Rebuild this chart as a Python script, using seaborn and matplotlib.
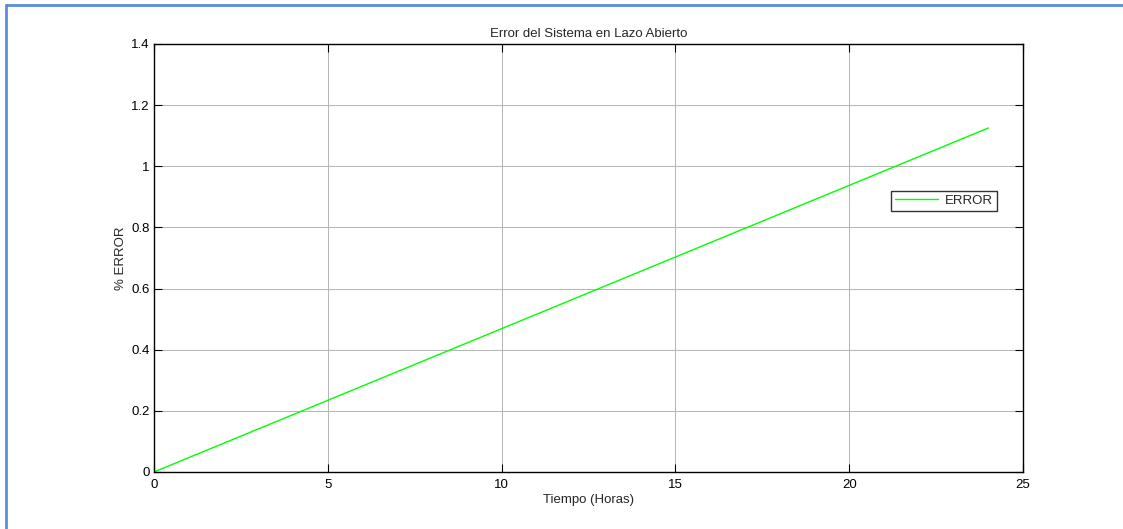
import matplotlib
matplotlib.use("Agg")
import matplotlib.pyplot as plt
import matplotlib.ticker as mticker
from matplotlib.lines import Line2D
import seaborn as sns
import pandas as pd

# data
tiempo = [0, 24]
error_pct = [0, 1.125]
x_ticks = [0, 5, 10, 15, 20, 25]
y_ticks = [0, 0.2, 0.4, 0.6, 0.8, 1.0, 1.2, 1.4]

sns.set_theme(style="white")
plt.rcParams['font.family'] = ['Liberation Sans', 'DejaVu Sans']
plt.rcParams['font.size'] = 9.5

df = pd.DataFrame({'Tiempo': tiempo, 'Error': error_pct})

fig = plt.figure(figsize=(11.23, 5.29), dpi=100)
ax = fig.add_axes([0.1371, 0.1078, 0.7739, 0.8091])

sns.lineplot(data=df, x='Tiempo', y='Error', ax=ax, color='#00ff00',
             linewidth=1.0, label='ERROR')

ax.set_xlim(0, 25)
ax.set_ylim(0, 1.4)
ax.set_xticks(x_ticks)
ax.set_yticks(y_ticks)
ax.yaxis.set_major_formatter(mticker.FormatStrFormatter('%g'))
ax.grid(True, color='#b4b4b4', linewidth=0.7, linestyle='-')
ax.tick_params(direction='in', length=6, width=0.8, colors='black',
               labelsize=9.5, top=True, right=True, bottom=True, left=True, pad=3)
ax.tick_params(axis='x', pad=5)
for s in ax.spines.values():
    s.set_color('black')
    s.set_linewidth(1.0)

ax.set_title("Error del Sistema en Lazo Abierto", fontsize=9.5, pad=5)
ax.set_xlabel("Tiempo (Horas)", fontsize=9.5, labelpad=2)
ax.set_ylabel("% ERROR", fontsize=9.5, labelpad=3)

leg = ax.legend(loc='center', bbox_to_anchor=(0.909, 0.634), fontsize=9.5,
                frameon=True, fancybox=False, handlelength=3.3,
                borderpad=0.3, handletextpad=0.5)
leg.get_frame().set_edgecolor('black')
leg.get_frame().set_linewidth(1.0)

# blue page border on top and left edges
fig.add_artist(Line2D([6 / 1123, 1], [1 - 5 / 529, 1 - 5 / 529],
                      transform=fig.transFigure, color='#5b8ed6', linewidth=2))
fig.add_artist(Line2D([6 / 1123, 6 / 1123], [0, 1 - 5 / 529],
                      transform=fig.transFigure, color='#5b8ed6', linewidth=2))

fig.savefig("out.png", dpi=100)
plt.close(fig)
